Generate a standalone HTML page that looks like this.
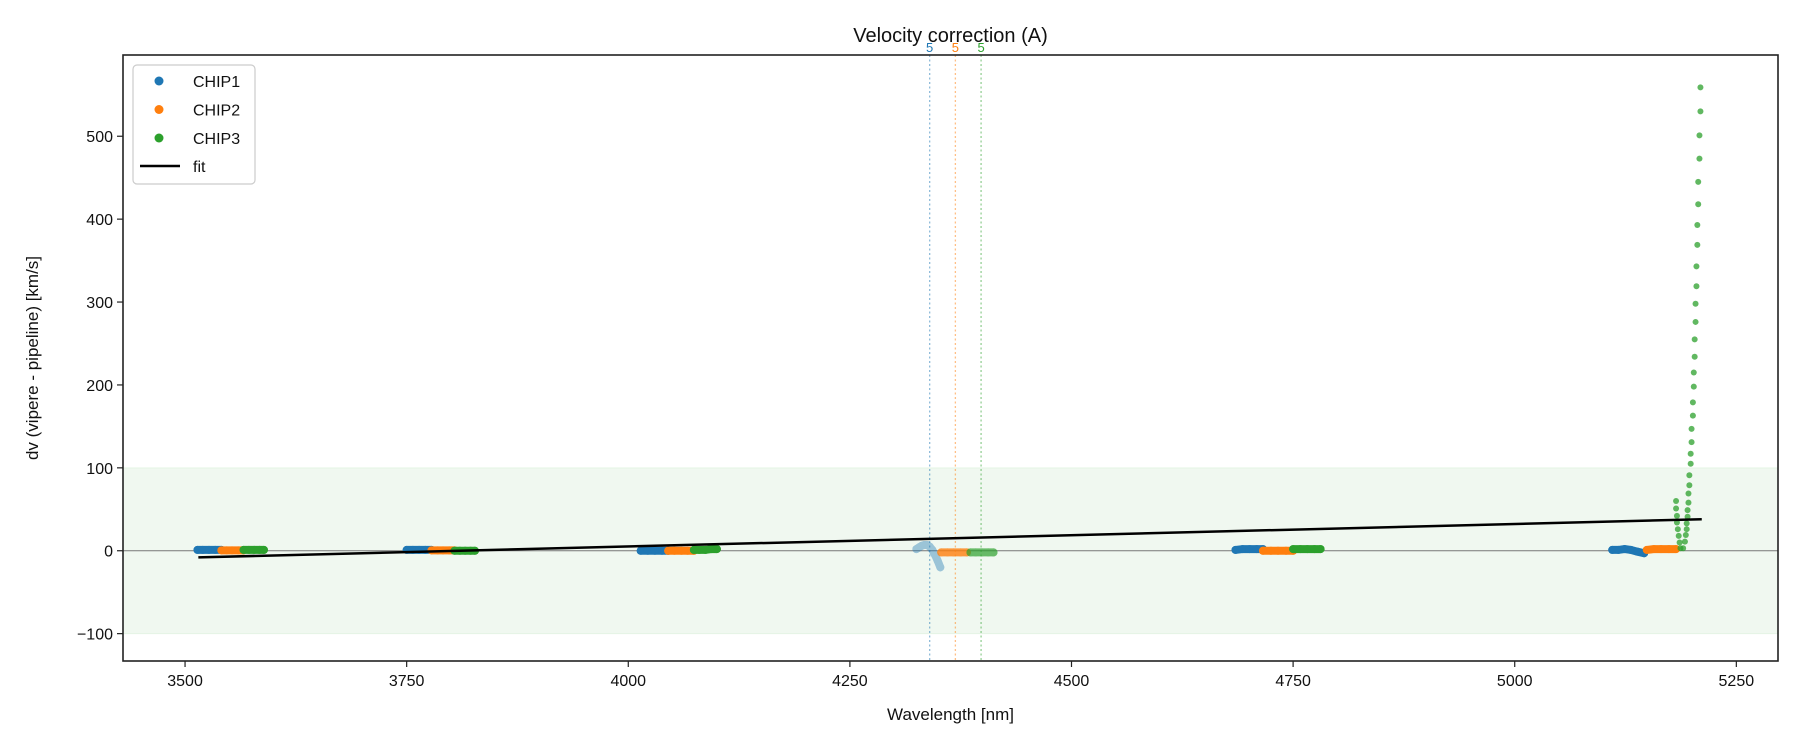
<!DOCTYPE html>
<html><head><meta charset="utf-8"><style>
body{margin:0;background:#fff}
svg{display:block;font-family:"Liberation Sans","DejaVu Sans",sans-serif}
</style></head><body>
<svg id="chart" width="1800" height="750" viewBox="0 0 1800 750" xmlns="http://www.w3.org/2000/svg">
<g id="plot"></g>
</svg>
<script>
const xTicks=[3500,3750,4000,4250,4500,4750,5000,5250];
const yTicks=[-100,0,100,200,300,400,500];
const chipNames=["CHIP1","CHIP2","CHIP3"];
const chipColors=["#1f77b4","#ff7f0e","#2ca02c"];
const fitX=[3515,5211];
const fitY=[-8,38];
const refLines=[4340,4369,4398];
// segments: [chipIndex, alpha, xs, ys]
const seg1x=[3514,3520,3527,3534,3541];const seg1y=[1,1,1,1,1];
const seg2x=[3541,3547,3553,3560,3566];const seg2y=[0.5,0.5,0.5,0.5,0.5];
const seg3x=[3566,3572,3578,3584,3589];const seg3y=[1,1,1,1,1];
const seg4x=[3750,3757,3764,3771,3778];const seg4y=[1,1,1,1,1];
const seg5x=[3778,3785,3791,3798,3804];const seg5y=[0.5,0.5,0.5,0.5,0.5];
const seg6x=[3804,3810,3816,3822,3827];const seg6y=[0,0,0,0,0];
const seg7x=[4014,4022,4030,4038,4045];const seg7y=[0,0,0,0,0];
const seg8x=[4045,4052,4060,4067,4074];const seg8y=[0,0,0,0,0];
const seg9x=[4074,4080,4087,4094,4100];const seg9y=[1,1,1,2,2];
const seg10x=[4325,4328,4331,4334,4337,4340,4343,4346,4349,4352];const seg10y=[2,4,6,7,7,5,1,-5,-12,-20];
const seg11x=[4353,4360,4367,4375,4382];const seg11y=[-2,-2,-2,-2,-2];
const seg12x=[4386,4392,4399,4406,4412];const seg12y=[-2,-2,-2,-2,-2];
const seg13x=[4685,4693,4701,4709,4716];const seg13y=[1,2,2,2,2];
const seg14x=[4716,4725,4733,4742,4750];const seg14y=[0,0,0,0,0];
const seg15x=[4750,4758,4766,4774,4781];const seg15y=[2,2,2,2,2];
const seg16x=[5110,5117,5124,5131,5138,5146];const seg16y=[1,1,2,1,-1,-3];
const seg17x=[5149,5157,5165,5174,5182];const seg17y=[1,2,2,2,2];
const spikeX=[5182,5182,5183,5183,5184,5185,5186,5187,5190,5192,5193,5194,5194,5195,5195,5196,5196,5197,5197,5198.5,5198.5,5199.5,5199.5,5201,5201,5202,5202,5203,5203,5204,5204,5205,5205,5206,5206,5207,5207,5208.4,5208.4,5209.5,5209.5];
const spikeY=[60,51,42,34,26,18,10,3,3,11,19,26,33,41,49,58,69,79,91,105,117,131,147,163,179,198,215,234,255,276,298,319,343,369,393,418,445,473,501,530,559];

const L=123,R=1778,T=55,B=661;
const X0=3430,X1=5297,Y0=-133,Y1=598;
const sx=v=>L+(v-X0)/(X1-X0)*(R-L);
const sy=v=>B-(v-Y0)/(Y1-Y0)*(B-T);
const NS="http://www.w3.org/2000/svg";
const g=document.getElementById("plot");
function mk(tag,attrs,parent){const e=document.createElementNS(NS,tag);for(const k in attrs)e.setAttribute(k,attrs[k]);(parent||g).appendChild(e);return e;}

const band=mk("rect",{x:L,y:sy(100),width:R-L,height:sy(-100)-sy(100),fill:"#2ca02c","fill-opacity":0.07,stroke:"#2ca02c","stroke-opacity":0.08});


const zl=mk("line",{x1:L,x2:R,y1:sy(0),y2:sy(0),stroke:"#777","stroke-width":1});



refLines.forEach((v,i)=>{
  const ln=mk("line",{x1:sx(v),x2:sx(v),y1:T,y2:B,stroke:chipColors[i],"stroke-opacity":0.5,"stroke-width":1.3,"stroke-dasharray":"2,2.5"});
  
  
  const t=mk("text",{x:sx(v),y:T-3,fill:chipColors[i],"font-size":13,"text-anchor":"middle"});
  t.textContent="5";
  
  
});

const segs=[[0,1,seg1x,seg1y],[1,1,seg2x,seg2y],[2,1,seg3x,seg3y],[0,1,seg4x,seg4y],[1,1,seg5x,seg5y],[2,1,seg6x,seg6y],
[0,1,seg7x,seg7y],[1,1,seg8x,seg8y],[2,1,seg9x,seg9y],[0,0.4,seg10x,seg10y],[1,0.8,seg11x,seg11y],[2,0.7,seg12x,seg12y],
[0,1,seg13x,seg13y],[1,1,seg14x,seg14y],[2,1,seg15x,seg15y],[0,1,seg16x,seg16y],[1,1,seg17x,seg17y]];
segs.forEach(([c,a,xs,ys])=>{
  const gg=mk("g",{opacity:a});
  
  
  mk("polyline",{points:xs.map((x,i)=>sx(x)+","+sy(ys[i])).join(" "),fill:"none",stroke:chipColors[c],"stroke-width":8,"stroke-linecap":"round"},gg);
  xs.forEach((x,i)=>{const p=mk("circle",{cx:sx(x),cy:sy(ys[i]),r:4,fill:chipColors[c]},gg);
    
    });
});
spikeX.forEach((x,i)=>{const p=mk("circle",{cx:sx(x),cy:sy(spikeY[i]),r:3,fill:"#2ca02c","fill-opacity":0.75});
  
  });

const fit=mk("line",{x1:sx(fitX[0]),y1:sy(fitY[0]),x2:sx(fitX[1]),y2:sy(fitY[1]),stroke:"#000","stroke-width":2.5});



const frame=mk("rect",{x:L,y:T,width:R-L,height:B-T,fill:"none",stroke:"#222","stroke-width":1.6});



xTicks.forEach(v=>{
  mk("line",{x1:sx(v),x2:sx(v),y1:B,y2:B+6,stroke:"#222","stroke-width":1.2});
  const t=mk("text",{x:sx(v),y:B+25,"font-size":16,"text-anchor":"middle",fill:"#111"});t.textContent=v;
  
  
});
yTicks.forEach(v=>{
  mk("line",{x1:L-6,x2:L,y1:sy(v),y2:sy(v),stroke:"#222","stroke-width":1.2});
  const t=mk("text",{x:L-10,y:sy(v)+6,"font-size":16,"text-anchor":"end",fill:"#111"});t.textContent=v===-100?"\u2212100":v;
  
  
});
const tt=mk("text",{x:(L+R)/2,y:42,"font-size":20,"text-anchor":"middle",fill:"#111"});tt.textContent="Velocity correction (A)";


const xl=mk("text",{x:(L+R)/2,y:720,"font-size":17,"text-anchor":"middle",fill:"#111"});xl.textContent="Wavelength [nm]";


const yl=mk("text",{x:0,y:0,"font-size":17,"text-anchor":"middle",fill:"#111",transform:"translate(38,"+((T+B)/2)+") rotate(-90)"});yl.textContent="dv (vipere - pipeline) [km/s]";



const lg=mk("g",{});


mk("rect",{x:133,y:65,width:122,height:119,rx:4,fill:"#fff","fill-opacity":0.85,stroke:"#ccc","stroke-width":1.2},lg);
chipNames.forEach((n,i)=>{
  const y=81+i*28.5;
  mk("circle",{cx:159,cy:y,r:4.5,fill:chipColors[i]},lg);
  const t=mk("text",{x:193,y:y+6,"font-size":16,fill:"#111"},lg);t.textContent=n;
  
  
});
mk("line",{x1:140,x2:180,y1:166,y2:166,stroke:"#000","stroke-width":2.5},lg);
const ft=mk("text",{x:193,y:172,"font-size":16,fill:"#111"},lg);ft.textContent="fit";


</script>
</body></html>
